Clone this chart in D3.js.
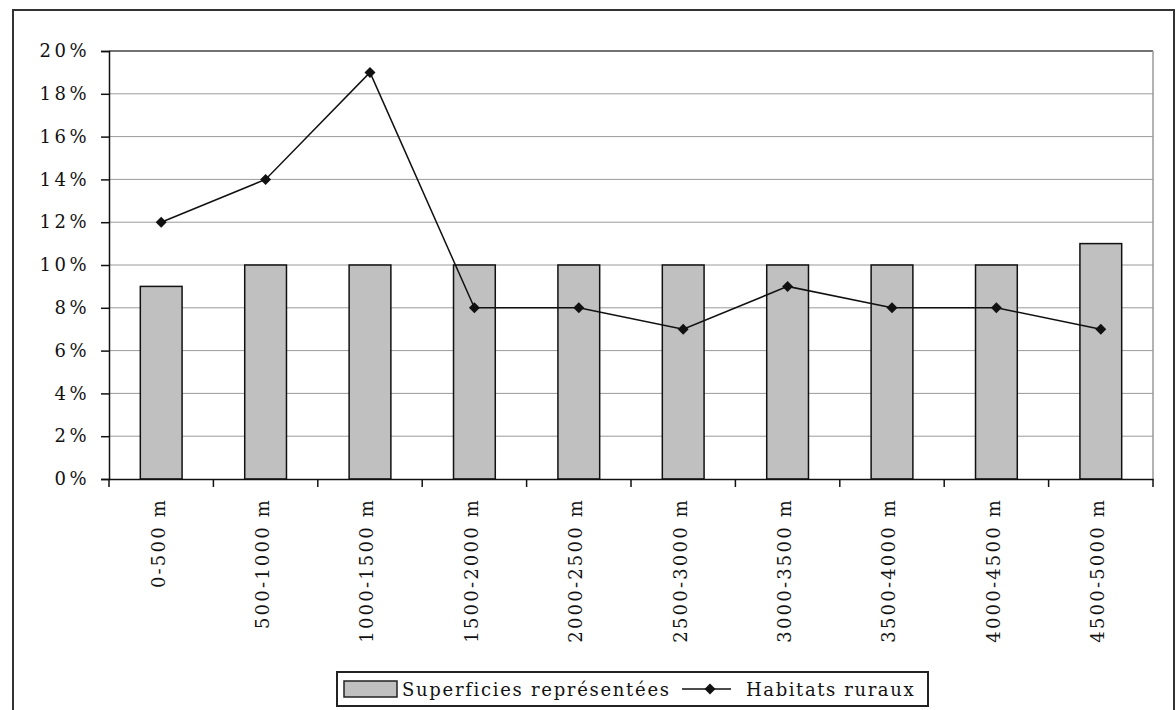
<!DOCTYPE html>
<html><head><meta charset="utf-8">
<script src="https://cdn.jsdelivr.net/npm/d3@7"></script>
<style>body{margin:0;background:#fff;} svg{display:block;} text{font-family:"DejaVu Serif",serif;fill:#111;}</style>
</head><body>
<svg id="c" width="1176" height="710"></svg>
<script>
const categories = ["0-500 m","500-1000 m","1000-1500 m","1500-2000 m","2000-2500 m","2500-3000 m","3000-3500 m","3500-4000 m","4000-4500 m","4500-5000 m"];
const superficies = [9,10,10,10,10,10,10,10,10,11];
const habitats = [12,14,19,8,8,7,9,8,8,7];
const yTicks = [0,2,4,6,8,10,12,14,16,18,20];
const legendLabels = ["Superficies représentées","Habitats ruraux"];

const FONT = '"DejaVu Serif",serif';
const svg = d3.select("#c");
const m = {l:109, r:1153, t:51, b:479};

// outer border
svg.append("rect").attr("x",13).attr("y",10).attr("width",1161).attr("height",720)
  .attr("fill","none").attr("stroke","#333").attr("stroke-width",2);

const x = d3.scaleBand().domain(categories).range([m.l,m.r]).paddingInner(0.6).paddingOuter(0.3);
const xb = d3.scaleBand().domain(categories).range([m.l,m.r]).padding(0);
const y = d3.scaleLinear().domain([0,20]).range([m.b,m.t]);

// gridlines
svg.append("g").selectAll("line").data(yTicks.filter(d=>d>0)).join("line")
  .attr("x1",m.l).attr("x2",m.r).attr("y1",d=>y(d)).attr("y2",d=>y(d))
  .attr("stroke",d=>d===20?"#444":"#9a9a9a").attr("stroke-width",d=>d===20?1.5:1);
// right border of plot area
svg.append("line").attr("x1",m.r).attr("x2",m.r).attr("y1",m.t).attr("y2",m.b)
  .attr("stroke","#9a9a9a").attr("stroke-width",1.5);

// bars
svg.append("g").selectAll("rect").data(categories).join("rect")
  .attr("x",d=>x(d)).attr("width",x.bandwidth())
  .attr("y",(d,i)=>y(superficies[i])).attr("height",(d,i)=>y(0)-y(superficies[i]))
  .attr("fill","#c0c0c0").attr("stroke","#111").attr("stroke-width",1.5);

// y axis
const yAxis = d3.axisLeft(y).tickValues(yTicks).tickFormat(d=>d+"%").tickSize(8).tickPadding(11);
const gy = svg.append("g").attr("transform",`translate(${m.l},0)`).call(yAxis);
gy.attr("font-family",null);
gy.select(".domain").attr("stroke","#111").attr("stroke-width",1.5);
gy.selectAll(".tick line").attr("stroke","#111").attr("stroke-width",1.5);
gy.selectAll(".tick text").style("font-family",FONT).style("font-size","18px")
  .style("letter-spacing","3.5px").attr("fill","#111");

// x axis
const xAxis = d3.axisBottom(xb).tickSize(0).tickPadding(0);
const gx = svg.append("g").attr("transform",`translate(0,${m.b})`).call(xAxis);
gx.attr("font-family",null);
gx.select(".domain").attr("stroke","#111").attr("stroke-width",1.5);
gx.selectAll(".tick text")
  .attr("transform","rotate(-90)").attr("x",-19).attr("y",-3).attr("dy","0.35em")
  .attr("text-anchor","end")
  .style("font-family",FONT).style("font-size","18px")
  .style("letter-spacing","2.2px").attr("fill","#111");
// boundary ticks
const bounds = categories.map(c=>xb(c)).concat([m.r]);
gx.append("g").selectAll("line").data(bounds).join("line")
  .attr("x1",d=>d).attr("x2",d=>d).attr("y1",0).attr("y2",8)
  .attr("stroke","#111").attr("stroke-width",1.5);

// line
const cx = (d)=>x(d)+x.bandwidth()/2;
svg.append("path").datum(habitats)
  .attr("d",d3.line().x((d,i)=>cx(categories[i])).y(d=>y(d)))
  .attr("fill","none").attr("stroke","#111").attr("stroke-width",1.5);
const diamondType = {draw(ctx,size){const r=Math.sqrt(size/2);ctx.moveTo(0,-r);ctx.lineTo(r,0);ctx.lineTo(0,r);ctx.lineTo(-r,0);ctx.closePath();}};
const diamond = d3.symbol().type(diamondType).size(60);
svg.append("g").selectAll("path").data(habitats).join("path")
  .attr("d",diamond).attr("transform",(d,i)=>`translate(${cx(categories[i])},${y(d)})`)
  .attr("fill","#111");

// legend
const lg = svg.append("g");
lg.append("rect").attr("x",337).attr("y",672).attr("width",591).attr("height",34)
  .attr("fill","#fff").attr("stroke","#222").attr("stroke-width",2);
lg.append("rect").attr("x",344).attr("y",681).attr("width",53).attr("height",16)
  .attr("fill","#c0c0c0").attr("stroke","#222").attr("stroke-width",1.5);
lg.append("text").attr("x",402).attr("y",696).text(legendLabels[0])
  .style("font-size","18px").style("letter-spacing","1.7px");
lg.append("line").attr("x1",682).attr("x2",731).attr("y1",689).attr("y2",689)
  .attr("stroke","#111").attr("stroke-width",1.5);
lg.append("path").attr("d",diamond).attr("transform","translate(710,689)").attr("fill","#111");
lg.append("text").attr("x",746).attr("y",696).text(legendLabels[1])
  .style("font-size","18px").style("letter-spacing","1.6px");
</script>
</body></html>
